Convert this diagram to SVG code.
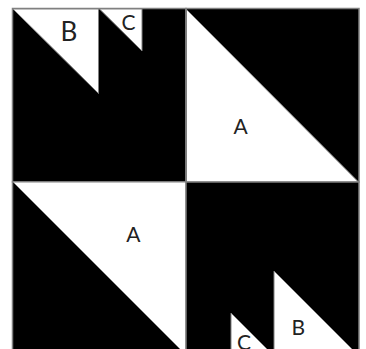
<svg xmlns="http://www.w3.org/2000/svg" width="366" height="349" viewBox="0 0 366 349">
<style>
.q{fill:#000;stroke:#808080;stroke-width:1.5}
.t{fill:#fff;stroke:#808080;stroke-width:1}
.l{font-family:Lato,"Open Sans","Liberation Sans",sans-serif;fill:#222;text-anchor:middle}
.s{font-size:21px}
.b{font-size:26px}
</style>
<rect width="366" height="349" fill="#fff"/>
<g id="quad-tl">
<rect class="q" x="12.5" y="8.5" width="173.5" height="173.5"/>
<polygon class="t" points="13,9 98.5,9 98.5,93.5"/>
<polygon class="t" points="99.5,9 142,9 142,51"/>
<text class="l b" x="69" y="41">B</text>
<text class="l s" x="128.5" y="30">C</text>
</g>
<g id="quad-tr">
<rect class="q" x="186" y="8.5" width="173" height="173.5"/>
<polygon class="t" points="186.5,9.5 186.5,182 358.5,182"/>
<text class="l s" x="240.7" y="134">A</text>
</g>
<g id="quad-bl">
<rect class="q" x="12.5" y="182" width="173.5" height="173.5"/>
<polygon class="t" points="13,182 186,182 186,355"/>
<text class="l s" x="133.3" y="242">A</text>
</g>
<g id="quad-br">
<rect class="q" x="186" y="182" width="173" height="173.5"/>
<polygon class="t" points="274,271 274,355 358,355"/>
<polygon class="t" points="231,313 231,355 273,355"/>
<text class="l s" x="298.3" y="335">B</text>
<text class="l s" x="244" y="350">C</text>
</g>
<g id="connectors"/>
</svg>
